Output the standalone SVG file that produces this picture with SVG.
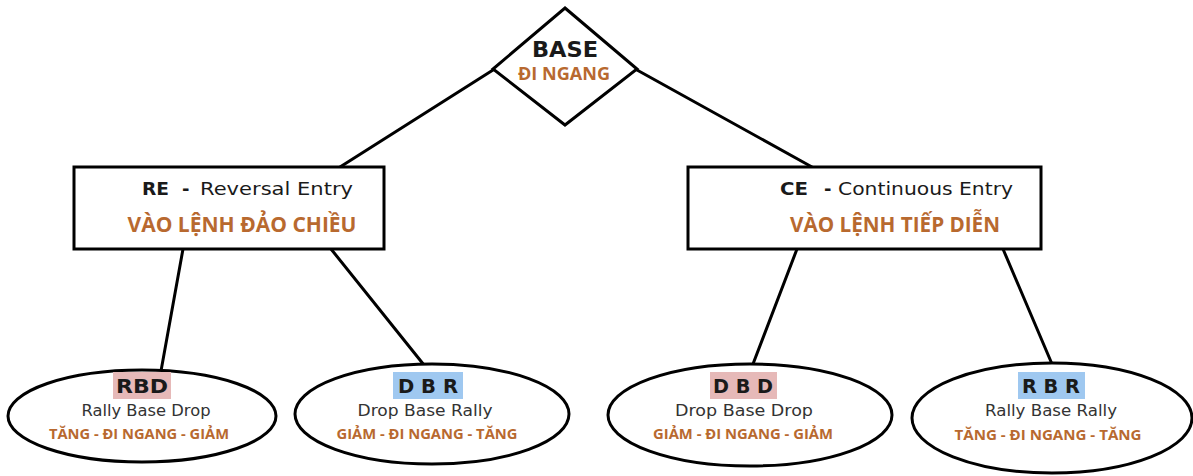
<svg xmlns="http://www.w3.org/2000/svg" width="1193" height="476" viewBox="0 0 1193 476">
  <style>
    .shape { fill: #ffffff; stroke: #000000; stroke-width: 3; }
    .link { stroke: #000000; stroke-width: 3; fill: none; stroke-linecap: round; }
    .head { font-family: "DejaVu Sans", "Noto Sans", sans-serif; fill: #1a1a1a; }
    .sub { font-family: "DejaVu Sans", "Noto Sans", sans-serif; fill: #333333; font-size: 15px; }
    .viet { font-family: "Open Sans", "Noto Sans", sans-serif; font-weight: bold; fill: #b8692f; }
    .code { font-family: "DejaVu Sans", "Noto Sans", sans-serif; font-weight: bold; font-size: 20px; fill: #1a1a1a; }
    .pink { fill: #e6b9b8; }
    .blue { fill: #9fc8f0; }
  </style>

  <!-- connectors -->
  <g id="connectors">
    <line class="link" x1="493" y1="70" x2="340" y2="167"/>
    <line class="link" x1="637" y1="70" x2="812" y2="167"/>
    <line class="link" x1="183" y1="249" x2="161" y2="371"/>
    <line class="link" x1="331" y1="249" x2="424" y2="365"/>
    <line class="link" x1="797" y1="249" x2="753" y2="364"/>
    <line class="link" x1="1003" y1="249" x2="1052" y2="364"/>
  </g>

  <!-- root: base -->
  <g id="base">
    <polygon class="shape" points="565,8 637,69 565,125 493,69"/>
    <text class="head" x="565" y="57" font-size="21" font-weight="bold" text-anchor="middle" textLength="66" lengthAdjust="spacingAndGlyphs">BASE</text>
    <text class="viet" x="564" y="80" font-size="17" text-anchor="middle" textLength="92" lengthAdjust="spacingAndGlyphs">ĐI NGANG</text>
  </g>

  <!-- reversal entry -->
  <g id="reversal-entry">
    <rect class="shape" x="74" y="167" width="310" height="82"/>
    <text class="head" x="142" y="195" font-size="18" font-weight="bold" textLength="27" lengthAdjust="spacingAndGlyphs">RE</text>
    <text class="head" x="182" y="195" font-size="18" font-weight="bold">-</text>
    <text class="head" x="200" y="195" font-size="18" textLength="153" lengthAdjust="spacingAndGlyphs">Reversal Entry</text>
    <text class="viet" x="242" y="232" font-size="21" text-anchor="middle" textLength="229" lengthAdjust="spacingAndGlyphs">VÀO LỆNH ĐẢO CHIỀU</text>
  </g>

  <!-- continuous entry -->
  <g id="continuous-entry">
    <rect class="shape" x="688" y="167" width="353" height="82"/>
    <text class="head" x="780" y="195" font-size="18" font-weight="bold" textLength="28" lengthAdjust="spacingAndGlyphs">CE</text>
    <text class="head" x="824" y="195" font-size="18" font-weight="bold">-</text>
    <text class="head" x="838" y="195" font-size="18" textLength="175" lengthAdjust="spacingAndGlyphs">Continuous Entry</text>
    <text class="viet" x="895" y="232" font-size="21" text-anchor="middle" textLength="210" lengthAdjust="spacingAndGlyphs">VÀO LỆNH TIẾP DIỄN</text>
  </g>

  <!-- rally base drop -->
  <g id="rbd">
    <ellipse class="shape" cx="142" cy="416" rx="134" ry="46"/>
    <rect class="pink" x="113" y="372" width="58" height="27"/>
    <text class="code" x="142" y="393" text-anchor="middle" textLength="52" lengthAdjust="spacingAndGlyphs">RBD</text>
    <text class="sub" x="146" y="416" text-anchor="middle" textLength="129" lengthAdjust="spacingAndGlyphs">Rally Base Drop</text>
    <text class="viet" x="139" y="439" font-size="14" text-anchor="middle" textLength="180" lengthAdjust="spacingAndGlyphs">TĂNG - ĐI NGANG - GIẢM</text>
  </g>

  <!-- drop base rally -->
  <g id="dbr">
    <ellipse class="shape" cx="432" cy="414" rx="137" ry="50"/>
    <rect class="blue" x="393" y="372" width="70" height="27"/>
    <text class="code" x="428" y="393" text-anchor="middle" textLength="60" lengthAdjust="spacingAndGlyphs">D B R</text>
    <text class="sub" x="425" y="416" text-anchor="middle" textLength="135" lengthAdjust="spacingAndGlyphs">Drop Base Rally</text>
    <text class="viet" x="427" y="439" font-size="14" text-anchor="middle" textLength="181" lengthAdjust="spacingAndGlyphs">GIẢM - ĐI NGANG - TĂNG</text>
  </g>

  <!-- drop base drop -->
  <g id="dbd">
    <ellipse class="shape" cx="750" cy="415" rx="142" ry="51"/>
    <rect class="pink" x="710" y="372" width="67" height="27"/>
    <text class="code" x="743" y="393" text-anchor="middle" textLength="60" lengthAdjust="spacingAndGlyphs">D B D</text>
    <text class="sub" x="744" y="416" text-anchor="middle" textLength="138" lengthAdjust="spacingAndGlyphs">Drop Base Drop</text>
    <text class="viet" x="743" y="439" font-size="14" text-anchor="middle" textLength="180" lengthAdjust="spacingAndGlyphs">GIẢM - ĐI NGANG - GIẢM</text>
  </g>

  <!-- rally base rally -->
  <g id="rbr">
    <ellipse class="shape" cx="1052" cy="418" rx="140" ry="55"/>
    <rect class="blue" x="1018" y="372" width="67" height="27"/>
    <text class="code" x="1051" y="393" text-anchor="middle" textLength="58" lengthAdjust="spacingAndGlyphs">R B R</text>
    <text class="sub" x="1051" y="416" text-anchor="middle" textLength="132" lengthAdjust="spacingAndGlyphs">Rally Base Rally</text>
    <text class="viet" x="1048" y="440" font-size="14" text-anchor="middle" textLength="187" lengthAdjust="spacingAndGlyphs">TĂNG - ĐI NGANG - TĂNG</text>
  </g>
</svg>
